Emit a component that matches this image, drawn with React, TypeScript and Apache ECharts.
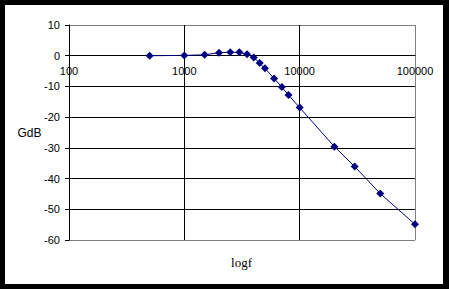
import React, { useEffect, useRef } from "react";
import * as echarts from "echarts";

const freqs = [500, 1000, 1500, 2000, 2500, 3000, 3500, 4000, 4500, 5000, 6000, 7000, 8000, 10000, 20000, 30000, 50000, 100000];
const gains = [0, 0.1, 0.3, 1.0, 1.1, 1.1, 0.5, -0.6, -2.4, -4.1, -7.4, -10.2, -12.8, -16.9, -29.6, -36.1, -44.9, -54.9];
const xTicks = [100, 1000, 10000, 100000];
const yMin = -60;
const yMax = 10;
const yStep = 10;
const xTitle = "logf";
const yTitle = "GdB";

export default function App() {
  const ref = useRef<HTMLDivElement>(null);
  useEffect(() => {
    if (!ref.current) return;
    const chart = echarts.init(ref.current, null, { renderer: "svg" });
    const nY = Math.round((yMax - yMin) / yStep) + 1;
    const yColors = Array.from({ length: nY }, (_, i) => (i === 0 || i === nY - 1 ? "#808080" : "#000000"));
    const xColors = xTicks.map((_, i) => (i === xTicks.length - 1 ? "#808080" : "#000000"));
    const gridTop = 25;
    const gridBottom = 49;
    const plotH = 289 - gridTop - gridBottom;
    const zeroOffset = -plotH * (0 - yMin) / (yMax - yMin);
    chart.setOption({
      animation: false,
      backgroundColor: "#ffffff",
      grid: { left: 69, right: 34, top: gridTop, bottom: gridBottom, containLabel: false },
      xAxis: {
        type: "log",
        logBase: 10,
        min: xTicks[0],
        max: xTicks[xTicks.length - 1],
        offset: zeroOffset,
        axisLine: { show: true, onZero: false, lineStyle: { color: "#000000", width: 1 } },
        axisTick: { show: false },
        axisLabel: {
          color: "#000000",
          fontFamily: "Liberation Sans, Arial, sans-serif",
          fontSize: 11,
          margin: 10,
          formatter: (v: number) => String(Math.round(v)),
        },
        splitLine: { show: true, lineStyle: { color: xColors, width: 1 } },
        minorTick: { show: false },
        minorSplitLine: { show: false },
      },
      yAxis: {
        type: "value",
        min: yMin,
        max: yMax,
        interval: yStep,
        axisLine: { show: true, onZero: false, lineStyle: { color: "#000000", width: 1 } },
        axisTick: { show: true, length: 4, lineStyle: { color: "#000000" } },
        axisLabel: {
          color: "#000000",
          fontFamily: "Liberation Sans, Arial, sans-serif",
          fontSize: 11,
          margin: 9,
        },
        splitLine: { show: true, lineStyle: { color: yColors, width: 1 } },
      },
      series: [
        {
          type: "line",
          data: freqs.map((f, i) => [f, gains[i]]),
          symbol: "diamond",
          symbolSize: 8,
          itemStyle: { color: "#000080" },
          lineStyle: { color: "#000080", width: 1 },
        },
      ],
      graphic: [
        {
          type: "text",
          x: 29.5,
          y: 133,
          style: {
            text: yTitle,
            fill: "#000000",
            font: "12px 'Liberation Sans', Arial, sans-serif",
            align: "center",
            verticalAlign: "middle",
          },
        },
        {
          type: "text",
          x: 241.5,
          y: 262,
          style: {
            text: xTitle,
            fill: "#000000",
            font: "13px 'Liberation Serif', 'Times New Roman', serif",
            align: "center",
            verticalAlign: "middle",
          },
        },
        { type: "rect", shape: { x: 0, y: 0, width: 449, height: 5 }, style: { fill: "#000000" } },
        { type: "rect", shape: { x: 0, y: 0, width: 5, height: 289 }, style: { fill: "#000000" } },
        { type: "rect", shape: { x: 443, y: 0, width: 6, height: 289 }, style: { fill: "#000000" } },
        { type: "rect", shape: { x: 0, y: 284, width: 449, height: 5 }, style: { fill: "#000000" } },
      ],
    });
    return () => chart.dispose();
  }, []);
  return <div ref={ref} style={{ position: "absolute", left: 0, top: 0, width: 449, height: 289 }} />;
}
